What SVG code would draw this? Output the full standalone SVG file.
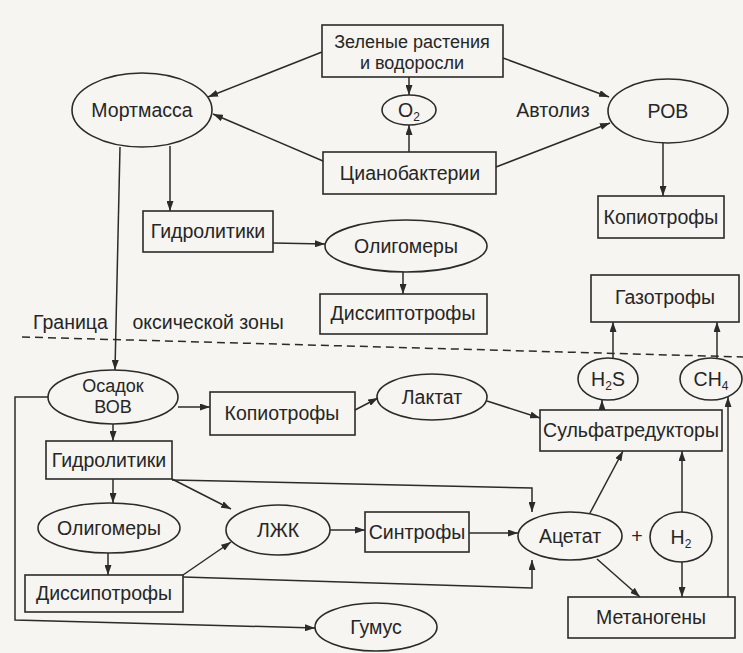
<svg xmlns="http://www.w3.org/2000/svg" width="743" height="653" viewBox="0 0 743 653">
<style>
  .n rect, .n ellipse { fill: none; stroke: #2b2b2b; stroke-width: 1.6; }
  text { font-family: "Liberation Sans", Arial, sans-serif; font-size: 19.5px; fill: #262626; text-anchor: middle; }
  .two { font-size: 18px; }
  .sub { font-size: 12px; }
  .c line, .c polyline { fill: none; stroke: #2b2b2b; stroke-width: 1.5; }
  .a { marker-end: url(#ah); }
  .dash { stroke: #2b2b2b; stroke-width: 1.5; stroke-dasharray: 8 5; fill: none; }
</style>
<defs>
  <marker id="ah" markerUnits="userSpaceOnUse" markerWidth="11" markerHeight="7" refX="10" refY="3.5" orient="auto">
    <path d="M0,0 L10,3.5 L0,7 z" fill="#2b2b2b"/>
  </marker>
</defs>
<rect x="0" y="0" width="743" height="653" fill="#f6f5f1"/>

<g id="boundary">
  <line class="dash" x1="22" y1="337" x2="743" y2="357"/>
  <text style="text-anchor:start"><tspan x="33" y="329">Граница</tspan><tspan x="127" y="329"> оксической зоны</tspan></text>
</g>

<g class="c" id="connectors">
  <line class="a" x1="322" y1="52" x2="208" y2="97"/>
  <line class="a" x1="323" y1="161" x2="213" y2="114"/>
  <line class="a" x1="409" y1="77" x2="409" y2="95"/>
  <line class="a" x1="409" y1="152" x2="409" y2="125"/>
  <line class="a" x1="503" y1="58" x2="609" y2="97"/>
  <line class="a" x1="496" y1="167" x2="610" y2="123"/>
  <line class="a" x1="663" y1="143" x2="663" y2="196"/>
  <line class="a" x1="170" y1="146" x2="170" y2="211"/>
  <line class="a" x1="120" y1="147" x2="115" y2="370"/>
  <line class="a" x1="273" y1="243" x2="325" y2="244"/>
  <line class="a" x1="403" y1="272" x2="403" y2="294"/>
  <line class="a" x1="613" y1="358" x2="613" y2="322"/>
  <line class="a" x1="717" y1="358" x2="717" y2="322"/>
  <line class="a" x1="178" y1="407" x2="210" y2="407"/>
  <line class="a" x1="355" y1="410" x2="378" y2="398"/>
  <line class="a" x1="487" y1="401" x2="540" y2="418"/>
  <line class="a" x1="602" y1="410" x2="602" y2="400"/>
  <line class="a" x1="113" y1="424" x2="113" y2="441"/>
  <line class="a" x1="113" y1="479" x2="113" y2="503"/>
  <line class="a" x1="108" y1="553" x2="108" y2="575"/>
  <line class="a" x1="172" y1="479" x2="231" y2="509"/>
  <polyline class="a" points="172,480 532,488 532,512"/>
  <line class="a" x1="183" y1="575" x2="231" y2="542"/>
  <polyline class="a" points="183,577 532,588 532,560"/>
  <line class="a" x1="330" y1="530" x2="365" y2="530"/>
  <line class="a" x1="469" y1="533" x2="518" y2="533"/>
  <line class="a" x1="590" y1="513" x2="623" y2="451"/>
  <line class="a" x1="597" y1="559" x2="640" y2="597"/>
  <line class="a" x1="682" y1="512" x2="682" y2="451"/>
  <line class="a" x1="682" y1="562" x2="682" y2="597"/>
  <line class="a" x1="728" y1="597" x2="728" y2="397"/>
  <polyline class="a" points="48,397 15,397 15,620 315,628"/>
</g>

<g class="n" id="zelenye"><rect x="322" y="25" width="181" height="52"/><text class="two" x="412" y="48">Зеленые растения</text><text class="two" x="412" y="69">и водоросли</text></g>
<g class="n" id="mortmassa"><ellipse cx="142" cy="110" rx="70" ry="37"/><text x="142" y="117">Мортмасса</text></g>
<g class="n" id="o2"><ellipse cx="409" cy="110" rx="27" ry="15"/><text x="409" y="117">O<tspan class="sub" dy="4">2</tspan></text></g>
<g id="autolysis"><text x="553" y="117">Автолиз</text></g>
<g class="n" id="rov"><ellipse cx="668" cy="111" rx="60" ry="32"/><text x="668" y="118">РОВ</text></g>
<g class="n" id="cyano"><rect x="323" y="152" width="173" height="42"/><text x="410" y="180">Цианобактерии</text></g>
<g class="n" id="kopio1"><rect x="598" y="196" width="126" height="42"/><text x="661" y="224">Копиотрофы</text></g>
<g class="n" id="gidro1"><rect x="143" y="211" width="130" height="41"/><text x="208" y="238">Гидролитики</text></g>
<g class="n" id="oligo1"><ellipse cx="406" cy="246" rx="81" ry="26"/><text x="406" y="253">Олигомеры</text></g>
<g class="n" id="dissip1"><rect x="320" y="294" width="167" height="40"/><text x="403" y="320">Диссиптотрофы</text></g>
<g class="n" id="gazo"><rect x="591" y="275" width="148" height="47"/><text x="665" y="304">Газотрофы</text></g>

<g class="n" id="h2s"><ellipse cx="608" cy="379" rx="30" ry="21"/><text x="608" y="386">H<tspan class="sub" dy="4">2</tspan><tspan dy="-4">S</tspan></text></g>
<g class="n" id="ch4"><ellipse cx="711" cy="379" rx="31" ry="21"/><text x="711" y="386">CH<tspan class="sub" dy="4">4</tspan></text></g>
<g class="n" id="osadok"><ellipse cx="113" cy="397" rx="65" ry="27"/><text class="two" x="113" y="392">Осадок</text><text class="two" x="113" y="413">ВОВ</text></g>
<g class="n" id="kopio2"><rect x="210" y="392" width="145" height="43"/><text x="282" y="420">Копиотрофы</text></g>
<g class="n" id="laktat"><ellipse cx="432" cy="397" rx="55" ry="23"/><text x="432" y="404">Лактат</text></g>
<g class="n" id="sulfat"><rect x="540" y="410" width="182" height="41"/><text x="631" y="437">Сульфатредукторы</text></g>
<g class="n" id="gidro2"><rect x="46" y="441" width="126" height="38"/><text x="109" y="467">Гидролитики</text></g>
<g class="n" id="oligo2"><ellipse cx="109" cy="528" rx="71" ry="25"/><text x="109" y="535">Олигомеры</text></g>
<g class="n" id="lzhk"><ellipse cx="278" cy="530" rx="52" ry="25"/><text x="278" y="537">ЛЖК</text></g>
<g class="n" id="sintro"><rect x="365" y="512" width="104" height="40"/><text x="417" y="539">Синтрофы</text></g>
<g class="n" id="acetat"><ellipse cx="570" cy="536" rx="52" ry="24"/><text x="570" y="543">Ацетат</text></g>
<g id="plus"><text x="637" y="543">+</text></g>
<g class="n" id="h2"><ellipse cx="681" cy="537" rx="31" ry="25"/><text x="681" y="544">H<tspan class="sub" dy="4">2</tspan></text></g>
<g class="n" id="dissip2"><rect x="25" y="575" width="158" height="37"/><text x="104" y="600">Диссипотрофы</text></g>
<g class="n" id="gumus"><ellipse cx="376" cy="627" rx="61" ry="24"/><text x="376" y="634">Гумус</text></g>
<g class="n" id="metano"><rect x="568" y="597" width="167" height="41"/><text x="651" y="624">Метаногены</text></g>
</svg>
